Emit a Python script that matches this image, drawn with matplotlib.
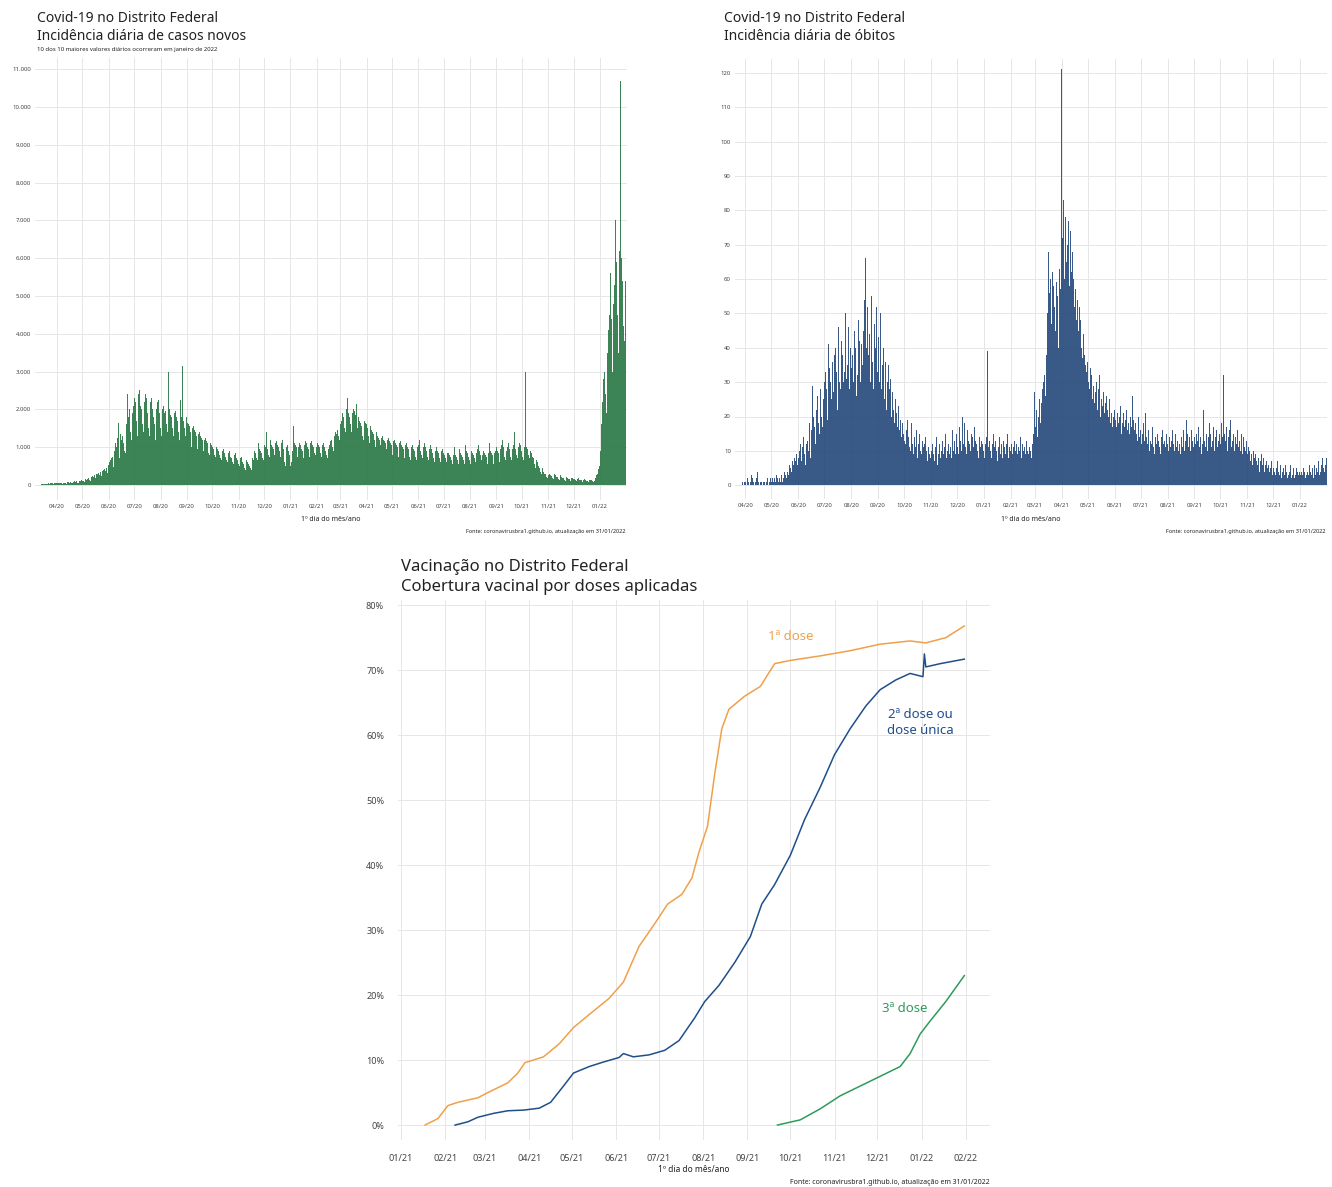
import numpy as np
import pandas as pd
import matplotlib
matplotlib.use("Agg")
import matplotlib.pyplot as plt
import matplotlib.dates as mdates
from matplotlib.ticker import FuncFormatter

plt.rcParams["font.family"] = ["Noto Sans", "DejaVu Sans"]

# ======================
# Data
# ======================
# daily new cases, Distrito Federal, from 2020-03-10
cases_start = "2020-03-10"
cases_2020 = [
    3, 5, 8, 10, 12, 15, 20, 25, 18, 30, 35, 28, 40, 30, 45, 38, 50, 42, 35, 55, 48, 40,  # mar
    45, 50, 38, 60, 55, 40, 30, 65, 58, 62, 48, 35, 70, 66, 75, 60, 80, 55, 42, 85,
    78, 90, 70, 95, 60, 50, 100, 110, 95, 120,  # apr
    105, 90, 70, 130, 150, 140, 160, 170, 120, 100, 190, 210, 230, 200, 250, 180, 140, 280,
    300, 320, 260, 350, 240, 200, 380, 400, 420, 360, 450, 320, 280,  # may
    520, 600, 650, 700, 740, 560, 480, 900, 1100, 1000, 1250, 1650, 800, 700, 1350, 1200,
    1300, 1100, 1500, 900, 850, 1600, 2400, 1800, 2000, 2500, 1400, 1200, 1900, 2100,  # jun
    2300, 2200, 2000, 1700, 1300, 2400, 2500, 2100, 2300, 2000, 1600, 1400, 2200, 2400, 2300,
    2100, 1900, 1500, 1300, 2200, 2300, 2100, 2000, 1800, 1600, 1200, 2000, 2200, 2100, 2250,
    1900,  # jul
    1500, 1300, 2000, 2150, 2100, 1900, 1950, 1600, 1400, 3000, 2100, 2000, 1850, 1800, 1500,
    1300, 1900, 2000, 1950, 1800, 1700, 1400, 1200, 1900, 2250, 1800, 3150, 1700, 1500, 1300,
    1700,  # aug
    1800, 1650, 1600, 1550, 1400, 1200, 1000, 1500, 1550, 1450, 1400, 1300, 1100, 950, 1350,
    1400, 1300, 1250, 1200, 1000, 900, 1200, 1250, 1150, 1100, 1000, 850, 800, 1100, 1050,  # sep
    1000, 950, 900, 800, 750, 1000, 950, 900, 850, 800, 700, 650, 900, 950, 850, 800, 750,
    650, 600, 850, 900, 800, 750, 700, 600, 550, 800, 850, 750, 700, 650,  # oct
    550, 500, 700, 750, 650, 600, 550, 450, 400, 650, 700, 600, 550, 500, 450, 400, 700, 750,
    650, 900, 850, 700, 650, 1000, 1100, 950, 900, 850, 700, 650,  # nov
    1100, 1050, 1000, 1400, 950, 800, 750, 1150, 1200, 1050, 1000, 950, 800, 700, 1100, 1150,
    1050, 1000, 900, 750, 650, 1100, 1200, 950, 600, 500, 700, 1000, 1050, 900, 800,  # dec
]
cases_2021 = [
    500, 600, 700, 900, 1550, 1100, 1050, 1000, 900, 750, 1000, 1100, 1050, 950, 900, 800,
    700, 1050, 1150, 1100, 1000, 950, 850, 750, 1100, 1150, 1050, 1000, 950, 850, 800,  # jan
    1000, 1100, 1050, 1000, 950, 850, 750, 1050, 1100, 1000, 950, 900, 800, 700, 950, 1050,
    1150, 1100, 1200, 1000, 900, 1300, 1400, 1350, 1500, 1450, 1300, 1200,  # feb
    1600, 1700, 2100, 1900, 1800, 1500, 1400, 2000, 2300, 2050, 1900, 1800, 1600, 1400, 1900,
    2100, 2000, 1950, 1850, 2150, 1500, 1800, 1900, 1700, 1650, 1550, 1300, 1200, 1700, 1800,
    1650,  # mar
    1600, 1500, 1300, 1100, 1500, 1550, 1450, 1400, 1350, 1200, 1000, 1350, 1400, 1300, 1250,
    1200, 1050, 900, 1250, 1300, 1200, 1150, 1100, 950, 850, 1200, 1250, 1150, 1100, 1050,  # apr
    900, 800, 1150, 1200, 1100, 1050, 1000, 850, 750, 1100, 1150, 1050, 1000, 950, 800, 700,
    1050, 1100, 1000, 950, 900, 750, 650, 1000, 1050, 950, 900, 850, 750, 650, 1000,  # may
    1050, 1200, 950, 900, 800, 700, 1000, 1100, 1000, 950, 900, 750, 650, 950, 1050, 950, 900,
    850, 700, 600, 900, 1000, 1100, 900, 850, 700, 600, 900, 950, 900,  # jun
    850, 800, 700, 600, 850, 900, 850, 800, 750, 650, 550, 800, 900, 1000, 800, 750, 650, 550,
    850, 950, 850, 800, 750, 650, 550, 800, 1050, 900, 850, 750, 650,  # jul
    550, 800, 900, 850, 800, 700, 600, 500, 850, 950, 1050, 900, 800, 650, 550, 800, 900, 850,
    800, 750, 650, 550, 850, 1100, 900, 850, 800, 650, 550, 850, 900,  # aug
    1000, 900, 850, 700, 600, 950, 1050, 1200, 1000, 900, 750, 650, 900, 1000, 1100, 950, 900,
    750, 650, 950, 1050, 1400, 1000, 950, 800, 700, 1000, 1100, 1050, 950,  # sep
    900, 750, 650, 1000, 3000, 1100, 1000, 950, 800, 700, 900, 850, 800, 750, 700, 550, 450,
    650, 600, 550, 500, 450, 350, 300, 450, 400, 350, 300, 280, 220, 180,  # oct
    250, 300, 280, 250, 230, 180, 150, 260, 300, 250, 220, 200, 150, 130, 230, 250, 210, 190,
    170, 130, 110, 200, 220, 180, 160, 150, 110, 100, 170, 190,  # nov
    160, 150, 130, 100, 90, 150, 170, 140, 130, 120, 90, 80, 140, 150, 130, 110, 100, 80, 70,
    120, 140, 130, 110, 100, 70, 90, 180, 250, 300, 420, 350,  # dec
]
cases_2022 = [
    500, 900, 1600, 2200, 2800, 3000, 2900, 2400, 1900, 3500, 4100, 4500, 5000, 5600, 4400,
    3000, 4800, 5300, 7000, 6500, 5900, 4500, 3500, 6200, 10700, 6800, 6000, 5400, 4200, 3800,
    5400,  # jan
]

# daily deaths, from 2020-03-28
deaths_start = "2020-03-28"
deaths_2020 = [
    1, 1, 0, 1,  # mar
    1, 0, 2, 1, 1, 0, 1, 3, 2, 1, 0, 1, 1, 2, 4, 1, 0, 1, 2, 1, 0, 1, 1, 0, 1, 2, 1, 0, 1, 2,
    1, 2, 1, 0, 2, 1, 3, 2, 1, 2, 1, 2, 3, 1, 2, 4, 3, 2, 5, 4, 3, 6, 5, 4, 7, 6, 5, 8, 7, 9, 6,
    8, 10, 9, 12, 7, 11, 14, 9, 6, 12, 15, 13, 10, 18, 8, 16, 29, 14, 20, 17, 12, 22, 26, 18,
    15, 23, 28, 20, 17, 25,  # jun
    30, 33, 22, 28, 19, 41, 34, 30, 25, 36, 32, 27, 38, 40, 33, 22, 46, 35, 30, 28, 42, 38, 30,
    33, 50, 44, 31, 35, 46, 28, 40,  # jul
    34, 52, 38, 30, 45, 40, 26, 32, 48, 55, 42, 30, 41, 35, 45, 54, 33, 66, 40, 52, 38, 44, 30,
    55, 42, 36, 28, 47, 40, 52, 33,  # aug
    38, 43, 30, 50, 28, 35, 40, 25, 33, 36, 22, 30, 35, 28, 31, 24, 20, 27, 22, 18, 25, 21, 17,
    20, 23, 16, 19, 14, 18, 15,  # sep
    17, 13, 12, 16, 19, 14, 11, 10, 15, 18, 12, 9, 14, 11, 16, 13, 8, 12, 15, 10, 9, 13, 11, 8,
    12, 14, 10, 7, 11, 9, 13,  # oct
    8, 10, 12, 9, 7, 11, 14, 10, 6, 9, 12, 8, 10, 13, 7, 9, 11, 15, 8, 10, 12, 9, 14, 11, 8, 16,
    10, 13, 9, 12,  # nov
    15, 11, 9, 17, 13, 10, 20, 14, 12, 18, 11, 9, 16, 13, 19, 12, 10, 15, 14, 11, 17, 13, 9, 12,
    10, 8, 14, 11, 13, 9, 12,  # dec
]
deaths_2021 = [
    10, 8, 12, 14, 39, 11, 9, 13, 10, 8, 12, 15, 11, 9, 13, 10, 7, 11, 14, 9, 12, 10, 8, 13, 11,
    9, 12, 15, 10, 8, 11,  # jan
    10, 12, 9, 11, 13, 8, 10, 12, 9, 11, 10, 14, 9, 8, 12, 10, 11, 9, 13, 10, 12, 9, 11, 10, 8,
    12, 15, 18,  # feb
    27, 17, 22, 14, 20, 25, 18, 34, 24, 28, 30, 32, 26, 38, 44, 50, 68, 56, 60, 47, 62, 58, 64,
    52, 45, 59, 55, 40, 63, 66, 57,  # mar
    121, 72, 83, 60, 78, 65, 86, 70, 77, 58, 74, 62, 68, 55, 60, 52, 57, 48, 54, 45, 52, 42, 48,
    40, 37, 44, 38, 35, 41, 33,  # apr
    36, 30, 28, 34, 32, 25, 31, 29, 24, 27, 30, 22, 28, 26, 32, 20, 25, 23, 27, 21, 24, 19, 26,
    22, 20, 25, 18, 21, 23, 17, 20,  # may
    22, 19, 17, 21, 18, 16, 20, 23, 15, 18, 21, 17, 14, 19, 22, 16, 18, 15, 20, 17, 14, 26, 19,
    16, 18, 15, 13, 17, 20, 14,  # jun
    16, 12, 15, 18, 13, 11, 21, 14, 12, 16, 10, 13, 15, 12, 17, 11, 9, 14, 12, 15, 10, 13, 11, 9,
    14, 16, 12, 10, 13, 11, 15,  # jul
    12, 10, 14, 11, 9, 13, 16, 12, 10, 15, 11, 18, 13, 10, 12, 9, 14, 11, 16, 12, 10, 13, 19, 15,
    11, 14, 12, 10, 16, 13, 11,  # aug
    14, 12, 15, 10, 13, 17, 11, 14, 9, 12, 16, 22, 13, 11, 15, 10, 14, 18, 12, 15, 11, 13, 17, 10,
    14, 12, 16, 11, 13, 15,  # sep
    12, 18, 14, 11, 32, 15, 13, 17, 10, 14, 12, 16, 19, 11, 13, 15, 10, 14, 21, 12, 16, 11, 13,
    10, 15, 12, 9, 14, 11, 10, 13,  # oct
    9, 11, 8, 10, 7, 9, 6, 10, 8, 5, 9, 7, 6, 8, 4, 7, 9, 5, 6, 8, 4, 6, 7, 5, 3, 6, 4, 5, 7, 3,
    5, 4, 6, 3, 5, 7, 4, 3, 6, 5, 2, 4, 5, 3, 6, 4, 2, 5, 3, 4, 6, 2, 3, 5, 4, 2, 3, 5, 4, 3, 4,
]
deaths_2022 = [
    3, 2, 4, 3, 5, 4, 2, 3, 5, 4, 3, 6, 4, 3, 5, 2, 4, 6, 3, 5, 4, 7, 3, 5, 4, 6, 8, 5, 4, 6, 8,
]

# vaccination coverage (% of population)
dose1_dates = ["2021-01-18", "2021-01-27", "2021-02-03", "2021-02-10", "2021-02-24", "2021-03-03",
               "2021-03-17", "2021-03-24", "2021-03-29", "2021-04-11", "2021-04-22", "2021-05-02",
               "2021-05-13", "2021-05-27", "2021-06-06", "2021-06-17", "2021-06-28", "2021-07-07",
               "2021-07-17", "2021-07-24", "2021-07-29", "2021-08-04", "2021-08-09", "2021-08-14",
               "2021-08-19", "2021-08-30", "2021-09-10", "2021-09-20", "2021-10-01", "2021-10-22",
               "2021-11-12", "2021-12-03", "2021-12-24", "2022-01-04", "2022-01-18", "2022-01-31"]
dose1_pct = [0, 1.0, 3.0, 3.5, 4.2, 5.0, 6.5, 8.0, 9.6, 10.5, 12.5, 15.0, 17.0, 19.5, 22.0, 27.5,
             31.0, 34.0, 35.5, 38.0, 42.0, 46.0, 54.0, 61.0, 64.0, 66.0, 67.5, 71.0, 71.5, 72.2,
             73.0, 74.0, 74.5, 74.2, 75.0, 76.8]

dose2_dates = ["2021-02-08", "2021-02-17", "2021-02-24", "2021-03-07", "2021-03-17", "2021-03-28",
               "2021-04-08", "2021-04-16", "2021-04-25", "2021-05-02", "2021-05-13", "2021-05-23",
               "2021-06-03", "2021-06-06", "2021-06-13", "2021-06-24", "2021-07-05", "2021-07-15",
               "2021-07-26", "2021-08-02", "2021-08-12", "2021-08-23", "2021-09-03", "2021-09-11",
               "2021-09-20", "2021-10-01", "2021-10-11", "2021-10-22", "2021-11-01", "2021-11-12",
               "2021-11-23", "2021-12-03", "2021-12-14", "2021-12-24", "2022-01-02", "2022-01-03",
               "2022-01-04", "2022-01-14", "2022-01-31"]
dose2_pct = [0, 0.5, 1.2, 1.8, 2.2, 2.3, 2.6, 3.5, 6.0, 8.0, 9.0, 9.7, 10.4, 11.0, 10.5, 10.8,
             11.5, 13.0, 16.5, 19.0, 21.5, 25.0, 29.0, 34.0, 37.0, 41.5, 47.0, 52.0, 57.0, 61.0,
             64.5, 67.0, 68.5, 69.5, 69.0, 72.5, 70.5, 71.0, 71.7]

dose3_dates = ["2021-09-22", "2021-10-08", "2021-10-22", "2021-11-05", "2021-11-19", "2021-12-03",
               "2021-12-17", "2021-12-24", "2021-12-31", "2022-01-07", "2022-01-18", "2022-01-31"]
dose3_pct = [0, 0.8, 2.5, 4.5, 6.0, 7.5, 9.0, 11.0, 14.0, 16.0, 19.0, 23.0]

caption = "Fonte: coronavirusbra1.github.io, atualização em 31/01/2022"
xtitle = "1º dia do mês/ano"

# ======================
# Helpers
# ======================
W, H = 1332, 1187
GRID = "#e6e6e6"
TXT = "#222222"


def px_axes(x0, y0, x1, y1):
    # pixel box (top-left origin) -> axes
    return fig.add_axes([x0 / W, 1 - y1 / H, (x1 - x0) / W, (y1 - y0) / H])


def style(ax, tick_size, first, last):
    for s in ax.spines.values():
        s.set_visible(False)
    ax.grid(True, color=GRID, linewidth=0.7)
    ax.set_axisbelow(True)
    ax.tick_params(length=0, labelsize=tick_size, colors="#444444", pad=3)
    ax.set_xticks(pd.date_range(first, last, freq="MS"))
    ax.xaxis.set_major_formatter(mdates.DateFormatter("%m/%y"))


def ftext(x, y, s, **kw):
    fig.text(x / W, 1 - y / H, s, **kw)


fig = plt.figure(figsize=(W / 100, H / 100), dpi=100)

# ======================
# Cases
# ======================
cases = cases_2020 + cases_2021 + cases_2022
cases_dates = pd.date_range(cases_start, periods=len(cases), freq="D")
ax1 = px_axes(35, 58, 627, 500)
ax1.bar(cases_dates, cases, width=1.0, color="#2b7a48", linewidth=0, alpha=0.92)
style(ax1, 4.3, "2020-04-01", "2022-01-01")
ax1.set_xlim(pd.Timestamp("2020-03-06"), pd.Timestamp("2022-02-02"))
ax1.set_ylim(-400, 11300)
ax1.set_yticks(np.arange(0, 11001, 1000))
ax1.yaxis.set_major_formatter(FuncFormatter(lambda v, p: f"{int(v):,}".replace(",", ".")))
ftext(37, 18, "Covid-19 no Distrito Federal", fontsize=10, color=TXT, va="center")
ftext(37, 36, "Incidência diária de casos novos", fontsize=10, color=TXT, va="center")
ftext(37, 49, "10 dos 10 maiores valores diários ocorreram em janeiro de 2022",
      fontsize=4.3, color=TXT, va="center")
ftext(331, 520, xtitle, fontsize=5, color=TXT, ha="center", va="center")
ftext(625, 532, caption, fontsize=4, color=TXT, ha="right", va="center")

# ======================
# Deaths
# ======================
deaths = deaths_2020 + deaths_2021 + deaths_2022
deaths_dates = pd.date_range(deaths_start, periods=len(deaths), freq="D")
ax2 = px_axes(735, 59, 1327, 499)
ax2.bar(deaths_dates, deaths, width=1.0, color="#23487a", linewidth=0, alpha=0.9)
style(ax2, 4.3, "2020-04-01", "2022-01-01")
ax2.set_xlim(pd.Timestamp("2020-03-20"), pd.Timestamp("2022-02-01"))
ax2.set_ylim(-4, 124)
ax2.set_yticks(np.arange(0, 121, 10))
ftext(724, 18, "Covid-19 no Distrito Federal", fontsize=10, color=TXT, va="center")
ftext(724, 36, "Incidência diária de óbitos", fontsize=10, color=TXT, va="center")
ftext(1031, 520, xtitle, fontsize=5, color=TXT, ha="center", va="center")
ftext(1325, 532, caption, fontsize=4, color=TXT, ha="right", va="center")

# ======================
# Vaccination
# ======================
ax3 = px_axes(398, 600, 990, 1140)
c1, c2, c3 = "#f0a04b", "#1f4f8a", "#2e9b5a"
ax3.plot(pd.to_datetime(dose1_dates), dose1_pct, color=c1, lw=1.1)
ax3.plot(pd.to_datetime(dose2_dates), dose2_pct, color=c2, lw=1.1)
ax3.plot(pd.to_datetime(dose3_dates), dose3_pct, color=c3, lw=1.1)
style(ax3, 6.5, "2021-01-01", "2022-02-01")
ax3.tick_params(pad=10)
ax3.set_xlim(pd.Timestamp("2020-12-30"), pd.Timestamp("2022-02-18"))
ax3.set_ylim(-2.3, 80.8)
ax3.set_yticks(np.arange(0, 81, 10))
ax3.yaxis.set_major_formatter(FuncFormatter(lambda v, p: f"{int(v)}%"))
ax3.text(pd.Timestamp("2021-10-01"), 75.2, "1ª dose", color=c1, fontsize=9.5,
         ha="center", va="center")
ax3.text(pd.Timestamp("2021-12-31"), 62.0, "2ª dose ou\ndose única", color=c2, fontsize=9.5,
         ha="center", va="center", linespacing=1.3)
ax3.text(pd.Timestamp("2021-12-20"), 18.0, "3ª dose", color=c3, fontsize=9.5,
         ha="center", va="center")
ftext(401, 567, "Vacinação no Distrito Federal", fontsize=12, color=TXT, va="center")
ftext(401, 587, "Cobertura vacinal por doses aplicadas", fontsize=12, color=TXT, va="center")
ftext(694, 1170, xtitle, fontsize=6, color=TXT, ha="center", va="center")
ftext(990, 1182, caption, fontsize=5, color=TXT, ha="right", va="center")

fig.savefig("out.png", dpi=100, facecolor="white")
